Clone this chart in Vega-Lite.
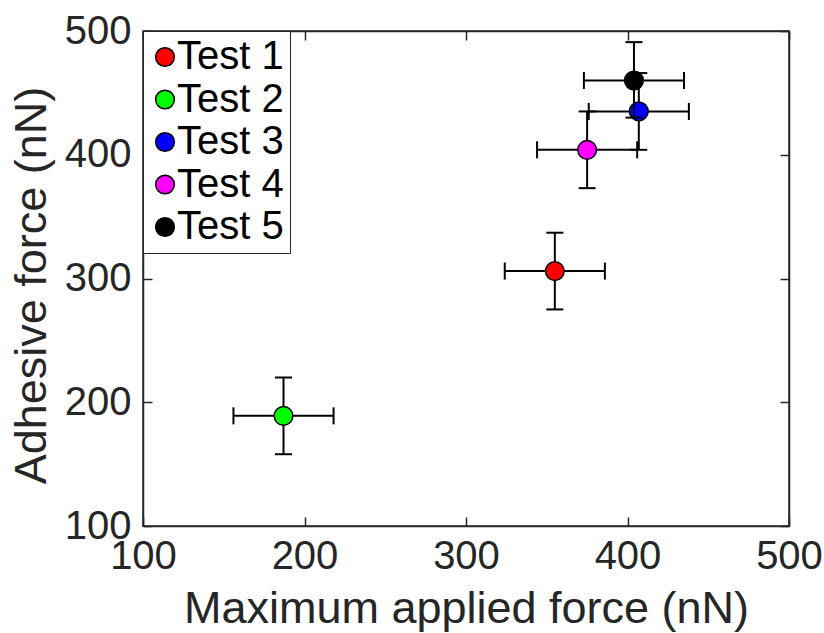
{
  "$schema": "https://vega.github.io/schema/vega-lite/v6.json",
  "autosize": {"type": "none"},
  "padding": {"left": 143, "top": 31, "right": 35, "bottom": 107},
  "width": 646,
  "height": 495,
  "background": "white",
  "data": {
    "values": [
      {"test": "Test 1", "x": 355, "y": 306, "xlo": 324, "xhi": 386, "ylo": 275, "yhi": 337},
      {"test": "Test 2", "x": 187, "y": 189, "xlo": 156, "xhi": 218, "ylo": 158, "yhi": 220},
      {"test": "Test 3", "x": 407, "y": 435, "xlo": 376, "xhi": 438, "ylo": 404, "yhi": 466},
      {"test": "Test 4", "x": 375, "y": 404, "xlo": 344, "xhi": 406, "ylo": 373, "yhi": 435},
      {"test": "Test 5", "x": 404, "y": 460, "xlo": 373, "xhi": 435, "ylo": 430, "yhi": 491}
    ]
  },
  "layer": [
    {
      "transform": [{"filter": "datum.test != 'Test 5'"}],
      "mark": {"type": "errorbar", "color": "black", "thickness": 2, "ticks": {"size": 17, "thickness": 2, "opacity": 1, "color": "black"}},
      "encoding": {
        "x": {"field": "xlo", "type": "quantitative", "scale": {"domain": [100, 500], "nice": false}, "axis": null},
        "x2": {"field": "xhi"},
        "y": {"field": "y", "type": "quantitative", "scale": {"domain": [100, 500], "nice": false}, "axis": null}
      }
    },
    {
      "transform": [{"filter": "datum.test != 'Test 5'"}],
      "mark": {"type": "errorbar", "color": "black", "thickness": 2, "ticks": {"size": 17, "thickness": 2, "opacity": 1, "color": "black"}},
      "encoding": {
        "y": {"field": "ylo", "type": "quantitative", "axis": null},
        "y2": {"field": "yhi"},
        "x": {"field": "x", "type": "quantitative", "axis": null}
      }
    },
    {
      "transform": [{"filter": "datum.test != 'Test 5'"}],
      "mark": {"type": "point", "shape": "circle", "filled": true, "size": 350, "stroke": "black", "strokeWidth": 1.5, "opacity": 1},
      "encoding": {
        "x": {"field": "x", "type": "quantitative", "title": "Maximum applied force (nN)",
          "axis": {"orient": "bottom", "values": [100, 200, 300, 400, 500], "tickSize": -9, "labelPadding": 19, "titlePadding": 10}},
        "y": {"field": "y", "type": "quantitative", "title": "Adhesive force (nN)",
          "axis": {"orient": "left", "values": [100, 200, 300, 400, 500], "tickSize": -9, "labelPadding": 21, "titlePadding": 10, "titleY": 254}},
        "fill": {"field": "test", "type": "nominal",
          "scale": {"domain": ["Test 1", "Test 2", "Test 3", "Test 4", "Test 5"], "range": ["#ff0000", "#00ff00", "#0000ff", "#ff00ff", "#000000"]},
          "legend": {"title": null, "orient": "top-left", "offset": 0}}
      }
    },
    {
      "transform": [{"filter": "datum.test == 'Test 5'"}],
      "mark": {"type": "errorbar", "color": "black", "thickness": 2, "ticks": {"size": 17, "thickness": 2, "opacity": 1, "color": "black"}},
      "encoding": {
        "x": {"field": "xlo", "type": "quantitative", "axis": null},
        "x2": {"field": "xhi"},
        "y": {"field": "y", "type": "quantitative", "axis": null}
      }
    },
    {
      "transform": [{"filter": "datum.test == 'Test 5'"}],
      "mark": {"type": "errorbar", "color": "black", "thickness": 2, "ticks": {"size": 17, "thickness": 2, "opacity": 1, "color": "black"}},
      "encoding": {
        "y": {"field": "ylo", "type": "quantitative", "axis": null},
        "y2": {"field": "yhi"},
        "x": {"field": "x", "type": "quantitative", "axis": null}
      }
    },
    {
      "transform": [{"filter": "datum.test == 'Test 5'"}],
      "mark": {"type": "point", "shape": "circle", "filled": true, "size": 350, "stroke": "black", "strokeWidth": 1.5, "opacity": 1},
      "encoding": {
        "x": {"field": "x", "type": "quantitative", "title": null,
          "axis": {"orient": "top", "values": [100, 200, 300, 400, 500], "tickSize": -9, "labels": false, "title": null}},
        "y": {"field": "y", "type": "quantitative", "title": null,
          "axis": {"orient": "right", "values": [100, 200, 300, 400, 500], "tickSize": -9, "labels": false, "title": null}},
        "fill": {"field": "test", "type": "nominal",
          "legend": {"title": null, "orient": "top-left", "offset": 0}}
      }
    }
  ],
  "resolve": {"axis": {"x": "independent", "y": "independent"}},
  "config": {
    "view": {"stroke": "#262626", "strokeWidth": 1.5},
    "font": "Liberation Sans",
    "axis": {
      "grid": false,
      "domainColor": "#262626",
      "domainWidth": 1.5,
      "tickColor": "#262626",
      "tickWidth": 1.5,
      "labelFont": "Liberation Sans",
      "labelFontSize": 40,
      "labelColor": "#262626",
      "titleFont": "Liberation Sans",
      "titleFontSize": 45,
      "titleFontWeight": "normal",
      "titleColor": "#262626",
      "labelFlush": false,
      "labelOverlap": false
    },
    "legend": {
      "labelFont": "Liberation Sans",
      "labelFontSize": 40,
      "labelColor": "black",
      "symbolType": "circle",
      "symbolSize": 350,
      "symbolStrokeColor": "black",
      "symbolStrokeWidth": 1.5,
      "strokeColor": "#262626",
      "fillColor": "white",
      "padding": 6,
      "rowPadding": 2.5,
      "symbolOffset": -4,
      "labelOffset": -8,
      "symbolOpacity": 1
    }
  }
}
